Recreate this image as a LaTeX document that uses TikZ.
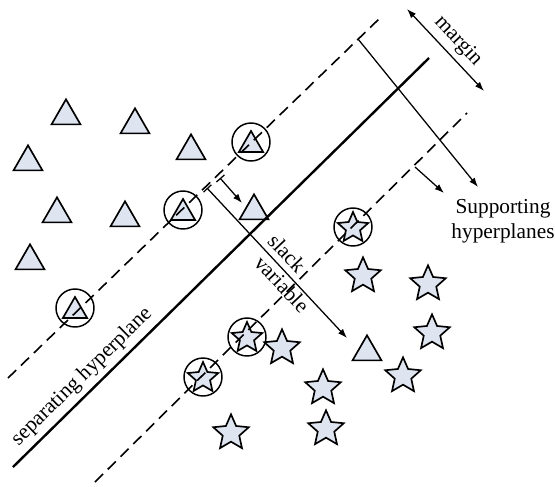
\documentclass[tikz,border=0pt]{standalone}
\usepackage{fontspec}
\setmainfont{Liberation Serif}
\usetikzlibrary{shapes.geometric,arrows.meta}
\definecolor{shapefill}{RGB}{222,228,240}
\begin{document}
\begin{tikzpicture}[x=0.75pt,y=-0.75pt,
  tri/.style={regular polygon, regular polygon sides=3, draw=black, fill=shapefill, line width=1.25pt, inner sep=0pt, minimum size=25pt},
  smalltri/.style={tri, minimum size=21pt},
  st/.style={star, star points=5, star point ratio=2.15, draw=black, fill=shapefill, line width=1.25pt, inner sep=0pt, minimum size=28pt},
  smallst/.style={st, minimum size=24pt},
  ring/.style={circle, draw=black, line width=1.1pt, inner sep=0pt, minimum size=28.5pt},
  supline/.style={line width=1.2pt, dash pattern=on 8.5pt off 5pt},
  sepline/.style={line width=1.8pt},
  arr/.style={line width=0.95pt, -{Latex[length=7pt,width=5pt]}},
  dblarr/.style={line width=0.95pt, {Latex[length=7pt,width=5pt]}-{Latex[length=7pt,width=5pt]}},
  bararr/.style={line width=0.95pt, {Bar[width=8pt]}-{Latex[length=7pt,width=5pt]}},
  lbl/.style={font=\fontsize{16}{18.5}\selectfont, inner sep=0pt}]
\path (0,0) rectangle (555,486);

% plain triangles
\node[tri] (t1) at (66,116) {};
\node[tri] (t2) at (135,125) {};
\node[tri] (t3) at (28,162) {};
\node[tri] (t4) at (191,151) {};
\node[tri] (t5) at (57,214) {};
\node[tri] (t6) at (125,218) {};
\node[tri] (t7) at (254,211) {};
\node[tri] (t8) at (30,261) {};
\node[tri] (t9) at (367,352) {};

% circled triangles
\node[ring] (c1) at (251,142) {};
\node[smalltri] (ct1) at (251,145) {};
\node[ring] (c2) at (183,210) {};
\node[smalltri] (ct2) at (183,213) {};
\node[ring] (c3) at (75,308) {};
\node[smalltri] (ct3) at (75,311) {};

% plain stars
\node[st] (s1) at (363,276) {};
\node[st] (s2) at (428,284) {};
\node[st] (s3) at (432,333) {};
\node[st] (s4) at (403,376) {};
\node[st] (s5) at (323,388) {};
\node[st] (s6) at (326,429) {};
\node[st] (s7) at (282,348) {};
\node[st] (s8) at (231,433) {};

% circled stars
\node[ring] (c4) at (353,227) {};
\node[smallst] (cs4) at (353,228) {};
\node[ring] (c5) at (247,337) {};
\node[smallst] (cs5) at (247,338) {};
\node[ring] (c6) at (203,377) {};
\node[smallst] (cs6) at (203,378) {};

% hyperplanes
\coordinate (ua) at (8,378);
\coordinate (ub) at (380,18);
\coordinate (sa) at (13,467);
\coordinate (sb) at (429,58);
\coordinate (la) at (95,482);
\coordinate (lb) at (467,113);
\draw[supline] (ua) -- (ub);
\draw[sepline] (sa) -- (sb);
\draw[supline] (la) -- (lb);

% margin
\coordinate (ma) at (407,9);
\coordinate (mb) at (484,91);
\draw[dblarr] (ma) -- (mb);
\node[lbl, rotate=-47] (mlbl) at (458,41) {margin};

\coordinate (pa) at (358,39);
\coordinate (pb) at (478,187);
\draw[arr] (pa) -- (pb);

\coordinate (qa) at (415,167);
\coordinate (qb) at (444,193);
\draw[arr] (qa) -- (qb);
\node[lbl, align=center] (sup) at (503,221) {Supporting\\hyperplanes};

% slack variables
\coordinate (ka) at (220,178);
\coordinate (kb) at (242,203);
\draw[bararr] (ka) -- (kb);
\coordinate (va) at (207,188);
\coordinate (vb) at (347,338);
\draw[bararr] (va) -- (vb);
\node[lbl, rotate=-46.6] (slk) at (287,253) {slack};
\node[lbl, rotate=-46.6] (var) at (282,284) {variable};

\node[lbl, rotate=44.5] (sep) at (82,377) {separating hyperplane};
\end{tikzpicture}
\end{document}
